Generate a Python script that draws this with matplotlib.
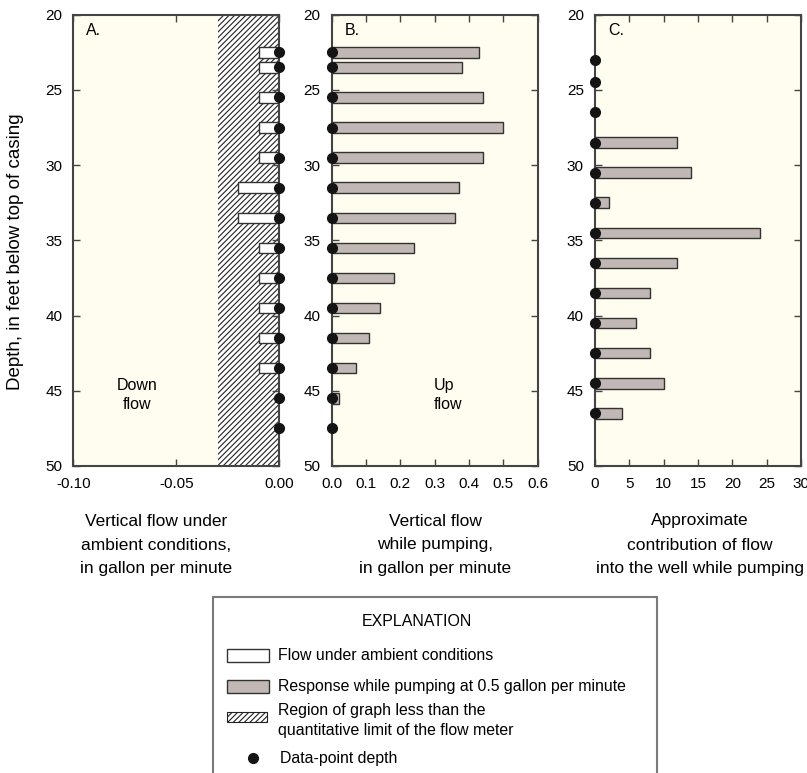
import matplotlib
matplotlib.use('Agg')
import matplotlib.pyplot as plt
from matplotlib.patches import Rectangle

plt.rcParams['font.family'] = ['Liberation Sans', 'DejaVu Sans']
plt.rcParams['hatch.linewidth'] = 0.8

# data
depth_ab = [22.5, 23.5, 25.5, 27.5, 29.5, 31.5, 33.5, 35.5, 37.5, 39.5, 41.5, 43.5, 45.5, 47.5]
ambient_flow = [-0.01, -0.01, -0.01, -0.01, -0.01, -0.02, -0.02, -0.01, -0.01, -0.01, -0.01, -0.01, 0, 0]
pumping_flow = [0.43, 0.38, 0.44, 0.50, 0.44, 0.37, 0.36, 0.24, 0.18, 0.14, 0.11, 0.07, 0.02, 0]
depth_c = [23.0, 24.5, 26.5, 28.5, 30.5, 32.5, 34.5, 36.5, 38.5, 40.5, 42.5, 44.5, 46.5]
contribution = [0, 0, 0, 12, 14, 2, 24, 12, 8, 6, 8, 10, 4]
quant_limit = -0.03

xlabels = [["Vertical flow under", "ambient conditions,", "in gallon per minute"],
           ["Vertical flow", "while pumping,", "in gallon per minute"],
           ["Approximate", "contribution of flow", "into the well while pumping"]]

BG = '#fffdf0'
BAR = '#c1b8b6'
EDGE = '#333333'
DOT = '#141414'

W, H = 807, 773
fig = plt.figure(figsize=(W / 100, H / 100), dpi=100)

def px(x0, y0, x1, y1):
    return [x0 / W, 1 - y1 / H, (x1 - x0) / W, (y1 - y0) / H]

axA = fig.add_axes(px(73.3, 14.7, 279.3, 466))
axB = fig.add_axes(px(331.7, 14.7, 537.7, 466))
axC = fig.add_axes(px(595, 14.7, 801, 466))

for ax in (axA, axB, axC):
    ax.set_facecolor(BG)
    ax.set_ylim(50, 20)
    ax.set_yticks(range(20, 51, 5))
    ax.tick_params(direction='in', top=True, right=True, length=5, width=1,
                   labelsize=11, pad=8, color='#444444')
    for s in ax.spines.values():
        s.set_color('#444444')
        s.set_linewidth(1.5)

def draw_bars(ax, depths, values, color):
    d = [y for y, v in zip(depths, values) if v != 0]
    v = [v for v in values if v != 0]
    ax.barh(d, v, height=0.7, left=0, color=color, edgecolor=EDGE, linewidth=1, zorder=3)
    ax.plot([0] * len(depths), depths, 'o', color=DOT, ms=7, clip_on=False, zorder=5)

# A
axA.axvspan(quant_limit, 0, facecolor='white', edgecolor='#222222', hatch='//////',
            linewidth=0, zorder=1)
draw_bars(axA, depth_ab, ambient_flow, 'white')
axA.set_xlim(-0.10, 0.00)
axA.set_xticks([-0.10, -0.05, 0.00])
axA.set_xticklabels(['-0.10', '-0.05', '0.00'])
axA.text(0.062, 0.965, 'A.', transform=axA.transAxes, fontsize=11.5, va='center')
axA.text(-0.069, 45.3, 'Down\nflow', fontsize=11.5, ha='center', va='center', linespacing=1.3)

# B
draw_bars(axB, depth_ab, pumping_flow, BAR)
axB.set_xlim(0, 0.6)
axB.set_xticks([0.0, 0.1, 0.2, 0.3, 0.4, 0.5, 0.6])
axB.set_xticklabels(['0.0', '0.1', '0.2', '0.3', '0.4', '0.5', '0.6'])
axB.text(0.062, 0.965, 'B.', transform=axB.transAxes, fontsize=11.5, va='center')
axB.text(0.298, 45.3, 'Up\nflow', fontsize=11.5, ha='left', va='center', linespacing=1.3)

# C
draw_bars(axC, depth_c, contribution, BAR)
axC.set_xlim(0, 30)
axC.set_xticks(range(0, 31, 5))
axC.text(0.062, 0.965, 'C.', transform=axC.transAxes, fontsize=11.5, va='center')

fig.text(16 / W, 1 - 251.5 / H, 'Depth, in feet below top of casing', rotation=90,
         fontsize=13.5, ha='center', va='center')

centers = [156, 435, 700]
for cx, lines in zip(centers, xlabels):
    for i, line in enumerate(lines):
        fig.text(cx / W, 1 - (521 + 24 * i) / H, line, fontsize=12.5,
                 ha='center', va='center')

# explanation box
lg = fig.add_axes([0, 0, 1, 1], facecolor='none')
lg.set_xlim(0, W)
lg.set_ylim(H, 0)
lg.axis('off')
lg.add_patch(Rectangle((213, 597), 444, 200, facecolor='white', edgecolor='#7a7a7a',
                       linewidth=1.5, clip_on=False))
lg.text(417, 622, 'EXPLANATION', fontsize=11.5, ha='center', va='center')
lg.add_patch(Rectangle((227, 649), 42, 13, facecolor='white', edgecolor=EDGE, linewidth=1))
lg.text(278, 655, 'Flow under ambient conditions', fontsize=11.4, va='center')
lg.add_patch(Rectangle((227, 680), 42, 13, facecolor=BAR, edgecolor=EDGE, linewidth=1))
lg.text(278, 686, 'Response while pumping at 0.5 gallon per minute', fontsize=11.4, va='center')
lg.add_patch(Rectangle((227, 712), 40, 10, facecolor='white', edgecolor='#222222',
                       hatch='//////', linewidth=0.8))
lg.text(278, 710, 'Region of graph less than the', fontsize=11.4, va='center')
lg.text(278, 730, 'quantitative limit of the flow meter', fontsize=11.4, va='center')
lg.plot([253], [758], 'o', color=DOT, ms=7)
lg.text(280, 758, 'Data-point depth', fontsize=11.4, va='center')

fig.savefig('out.png', dpi=100, facecolor='white')
